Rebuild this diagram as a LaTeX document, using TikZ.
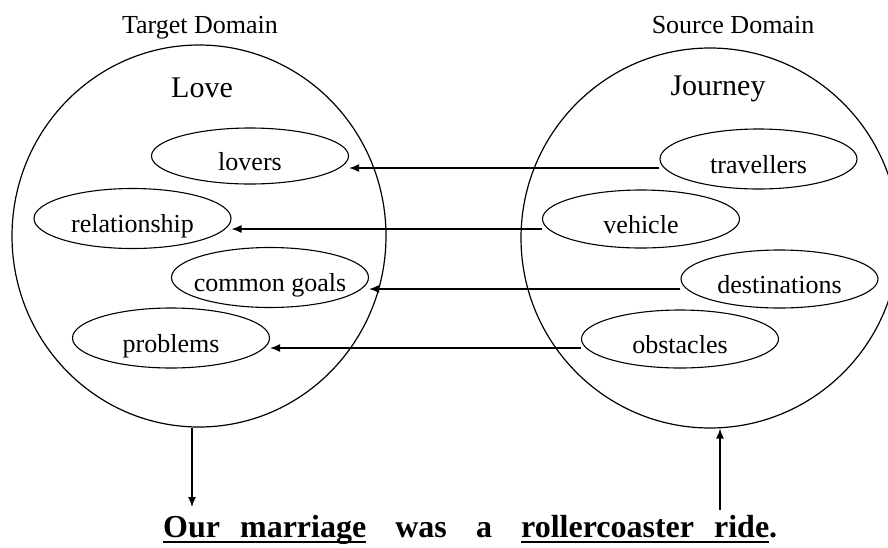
\documentclass[tikz,border=0pt]{standalone}
\usepackage{fontspec}
\setmainfont{Liberation Serif}
\usetikzlibrary{shapes.geometric,arrows.meta}
\newcommand\myul[1]{\setbox0=\hbox{#1}\rlap{\rule[-6pt]{\wd0}{1.8pt}}\box0}
\begin{document}
\begin{tikzpicture}[x=1pt,y=-1pt,
  dom/.style={draw, ellipse, line width=1.2pt, inner sep=0pt},
  item/.style={draw, ellipse, line width=1.1pt, inner xsep=-30pt, inner ysep=0pt,
    minimum width=197pt, minimum height=60pt, text height=28pt, text depth=0pt,
    font=\fontsize{26}{30}\selectfont},
  map/.style={-{Latex[length=10pt,width=8pt]}, line width=1.3pt},
  head/.style={font=\fontsize{26}{30}\selectfont, anchor=base, inner sep=0pt},
  title/.style={font=\fontsize{30}{34}\selectfont, anchor=base, inner sep=0pt}]
\useasboundingbox (0,0) rectangle (888,547);
\clip (0,0) rectangle (888,547);
% domains
\node[dom, minimum width=374pt, minimum height=382pt] (target) at (199,236) {};
\node[dom, minimum width=378pt, minimum height=380pt] (source) at (710,238) {};
\node[head] (tdl) at (200,33) {Target Domain};
\node[head] (sdl) at (733,33) {Source Domain};
\node[title] (love) at (202,97) {Love};
\node[title] (journey) at (718,95) {Journey};
% target items
\node[item, minimum height=56pt] (lovers) at (250,156) {lovers};
\node[item] (relationship) at (132.5,218.5) {relationship};
\node[item] (goals) at (270,277.5) {common goals};
\node[item] (problems) at (171,338) {problems};
% source items
\node[item] (travellers) at (758.5,159) {travellers};
\node[item, minimum height=58pt] (vehicle) at (641,219) {vehicle};
\node[item, minimum height=58pt] (destinations) at (779.5,279) {destinations};
\node[item, minimum height=58pt] (obstacles) at (680,339) {obstacles};
% mappings
\coordinate (m1) at ([yshift=-9pt]travellers.west);
\coordinate (m2) at ([yshift=-10pt]vehicle.west);
\coordinate (m3) at ([yshift=-10pt]destinations.west);
\coordinate (m4) at ([yshift=-9pt]obstacles.west);
\draw[map] (m1) -- (m1 -| lovers.east);
\draw[map] (m2) -- (m2 -| relationship.east);
\draw[map] (m3) -- (m3 -| goals.east);
\draw[map] (m4) -- (m4 -| problems.east);
% sentence
\node[anchor=base west, inner sep=0pt, font=\fontsize{32}{36}\selectfont\bfseries] (sent) at (163,537)
  {\hbox to 614pt{\myul{Our\hspace{20pt}marriage}\hfill was\hfill a\hfill \myul{rollercoaster\hspace{20pt}ride}.}};
\coordinate (dstart) at ([xshift=-7pt]target.south);
\coordinate (dend) at (192,507);
\draw[map] (dstart) -- (dend);
\coordinate (ustart) at (720,510);
\draw[map] (ustart) -- (ustart |- source.south);
\end{tikzpicture}
\end{document}
